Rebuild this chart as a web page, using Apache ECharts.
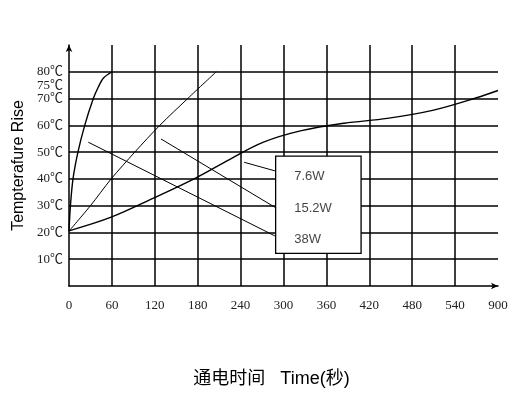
<!DOCTYPE html>
<html>
<head>
<meta charset="utf-8">
<script src="https://cdn.jsdelivr.net/npm/echarts@6/dist/echarts.min.js"></script>
<style>html,body{margin:0;padding:0;background:#fff;}#c{width:521px;height:397px;}</style>
</head>
<body>
<div id="c"></div>
<script>
// x axis: time (s); last tick is labelled 900 on the original
const xTicks = [0, 60, 120, 180, 240, 300, 360, 420, 480, 540, 600];
const xTickLabels = ['0', '60', '120', '180', '240', '300', '360', '420', '480', '540', '900'];
const yTickLabels = [10, 20, 30, 40, 50, 60, 70, 75, 80];

// curves [time, temperature rise]
const curve38W = [[0,20.5],[2,30],[5.6,40],[12.5,50],[22,60],[34,70],[41,74.3],[48,77.6],[60,80]];
const curve15W = [[0,20.5],[30,30],[59,40],[92,50],[127,60],[166,70],[206,80]];
const curve7W = [[0,20.6],[59,25.7],[118,32.8],[177,40.3],[225,47.3],[272,53.7],[325,58],[385,60.8],[445,62.6],[510,65.7],[570,70.3],[600,73]];

// legend annotation: leader lines, box and texts (data coordinates)
const leader7W = [[245,46.2],[288,43]];
const leader15W = [[128.7,54.9],[288,29.4]];
const leader38W = [[27,53.7],[288,18.7]];
const legendBox = [[289,48.5],[408.5,12.2]];
const legendNames = ['7.6W', '15.2W', '38W'];
const legendAnchors = [[315,41.1],[315,28.8],[315,17.5]];

const chart = echarts.init(document.getElementById('c'), null, {renderer: 'canvas'});
const serif = '"Liberation Serif", "Noto Sans CJK SC", serif';
const sans = '"Liberation Sans", "Noto Sans CJK SC", sans-serif';
const lineStyle = (w) => ({color: '#000', width: w});

chart.setOption({
  backgroundColor: '#fff',
  animation: false,
  grid: {left: 69, right: 23, top: 45, bottom: 111},
  xAxis: {
    type: 'value', min: 0, max: 600, interval: 60,
    axisLine: {show: true, lineStyle: {color: '#000', width: 1.5}, symbol: ['none', 'arrow'], symbolSize: [5, 7]},
    axisTick: {show: false},
    splitLine: {show: true, showMinLine: false, showMaxLine: false, lineStyle: {color: '#000', width: 1.5}},
    axisLabel: {
      margin: 13, fontFamily: serif, fontSize: 13, color: '#222',
      formatter: (v) => { const i = xTicks.indexOf(v); return i >= 0 ? xTickLabels[i] : ''; }
    },
    name: '通电时间   Time(秒)', nameLocation: 'middle', nameGap: 84,
    nameTextStyle: {fontFamily: sans, fontSize: 18, color: '#000', padding: [0, 24, 0, 0]}
  },
  yAxis: [{
    type: 'value', min: 0, max: 90, interval: 10,
    axisLine: {show: true, lineStyle: {color: '#000', width: 1.5}, symbol: ['none', 'arrow'], symbolSize: [5, 7]},
    axisTick: {show: false},
    splitLine: {show: true, showMinLine: false, showMaxLine: false, lineStyle: {color: '#000', width: 1.5}},
    axisLabel: {
      margin: 6, fontFamily: serif, fontSize: 13, color: '#222',
      formatter: (v) => (yTickLabels.indexOf(v) >= 0 && v !== 75) ? v + '℃' : ''
    },
    name: 'Tempterafure Rise', nameLocation: 'middle', nameGap: 42, nameRotate: 90,
    nameTextStyle: {fontFamily: sans, fontSize: 16, color: '#000'}
  }, {
    type: 'value', min: 0, max: 90, interval: 5, position: 'left',
    axisLine: {show: false}, axisTick: {show: false}, splitLine: {show: false},
    axisLabel: {
      margin: 6, fontFamily: serif, fontSize: 13, color: '#222',
      formatter: (v) => v === 75 ? v + '℃' : ''
    }
  }],
  series: [
    {type: 'line', data: curve38W, smooth: 0.3, showSymbol: false, lineStyle: lineStyle(1.4), z: 3},
    {type: 'line', data: curve15W, smooth: 0.3, showSymbol: false, lineStyle: lineStyle(1), z: 3},
    {type: 'line', data: curve7W, smooth: 0.35, showSymbol: false, lineStyle: lineStyle(1.4), z: 3},
    {type: 'line', data: leader7W, showSymbol: false, lineStyle: lineStyle(1), z: 3},
    {type: 'line', data: leader15W, showSymbol: false, lineStyle: lineStyle(1), z: 3},
    {type: 'line', data: leader38W, showSymbol: false, lineStyle: lineStyle(1), z: 3,
      markArea: {
        silent: true,
        itemStyle: {color: '#fff', borderColor: '#000', borderWidth: 1.3},
        data: [[{coord: legendBox[0]}, {coord: legendBox[1]}]]
      }
    },
    {type: 'scatter', symbolSize: 0, z: 5,
      data: legendAnchors.map((p, i) => ({value: p, name: legendNames[i]})),
      label: {show: true, position: 'right', distance: 0, formatter: (p) => p.name,
        fontFamily: sans, fontSize: 13, color: '#111'}
    }
  ]
});
</script>
</body>
</html>
